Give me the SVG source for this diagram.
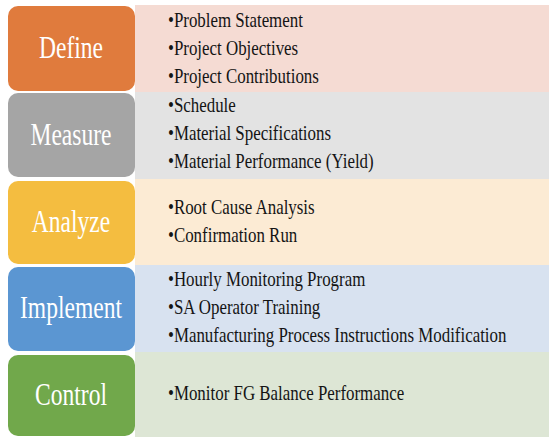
<svg xmlns="http://www.w3.org/2000/svg" width="550" height="437" viewBox="0 0 550 437">
  <style>
    .stage { font-family: "Liberation Serif", "Times New Roman", serif; font-size: 31px; fill: #ffffff; text-anchor: middle; }
    .item { font-family: "Liberation Serif", "Times New Roman", serif; font-size: 20px; fill: #141414; }
  </style>
  <rect x="0" y="0" width="550" height="437" fill="#ffffff"/>

  <!-- Define -->
  <g id="define">
    <rect x="135" y="5" width="414" height="87" fill="#F5DBD3"/>
    <rect x="8" y="6" width="127" height="85" rx="10" fill="#E07B3D"/>
    <g transform="translate(71 0) scale(0.76 1)"><text class="stage" x="0" y="58.5">Define</text></g>
    <g transform="translate(168 0) scale(0.845 1)">
      <text class="item" x="0" y="27">•Problem Statement</text>
      <text class="item" x="0" y="55">•Project Objectives</text>
      <text class="item" x="0" y="83">•Project Contributions</text>
    </g>
  </g>

  <!-- Measure -->
  <g id="measure">
    <rect x="135" y="92" width="414" height="87" fill="#E3E3E3"/>
    <rect x="8" y="93" width="127" height="84" rx="10" fill="#A5A5A5"/>
    <g transform="translate(71 0) scale(0.76 1)"><text class="stage" x="0" y="145">Measure</text></g>
    <g transform="translate(168 0) scale(0.845 1)">
      <text class="item" x="0" y="112">•Schedule</text>
      <text class="item" x="0" y="140">•Material Specifications</text>
      <text class="item" x="0" y="168">•Material Performance (Yield)</text>
    </g>
  </g>

  <!-- Analyze -->
  <g id="analyze">
    <rect x="135" y="179" width="414" height="86" fill="#FCEBD4"/>
    <rect x="8" y="181" width="127" height="83" rx="10" fill="#F4BD40"/>
    <g transform="translate(71 0) scale(0.76 1)"><text class="stage" x="0" y="232">Analyze</text></g>
    <g transform="translate(168 0) scale(0.845 1)">
      <text class="item" x="0" y="214">•Root Cause Analysis</text>
      <text class="item" x="0" y="242">•Confirmation Run</text>
    </g>
  </g>

  <!-- Implement -->
  <g id="implement">
    <rect x="135" y="265" width="414" height="87" fill="#D8E2F0"/>
    <rect x="8" y="267" width="127" height="84" rx="10" fill="#5B96D2"/>
    <g transform="translate(71 0) scale(0.76 1)"><text class="stage" x="0" y="318.5">Implement</text></g>
    <g transform="translate(168 0) scale(0.845 1)">
      <text class="item" x="0" y="286">•Hourly Monitoring Program</text>
      <text class="item" x="0" y="314">•SA Operator Training</text>
      <text class="item" x="0" y="342">•Manufacturing Process Instructions Modification</text>
    </g>
  </g>

  <!-- Control -->
  <g id="control">
    <rect x="135" y="352" width="414" height="85" fill="#DDE6D5"/>
    <rect x="8" y="355" width="127" height="81" rx="10" fill="#71A84B"/>
    <g transform="translate(71 0) scale(0.76 1)"><text class="stage" x="0" y="405.5">Control</text></g>
    <g transform="translate(168 0) scale(0.845 1)">
      <text class="item" x="0" y="400">•Monitor FG Balance Performance</text>
    </g>
  </g>

  <!-- no connectors between the stages -->
  <g id="connectors"/>
</svg>
